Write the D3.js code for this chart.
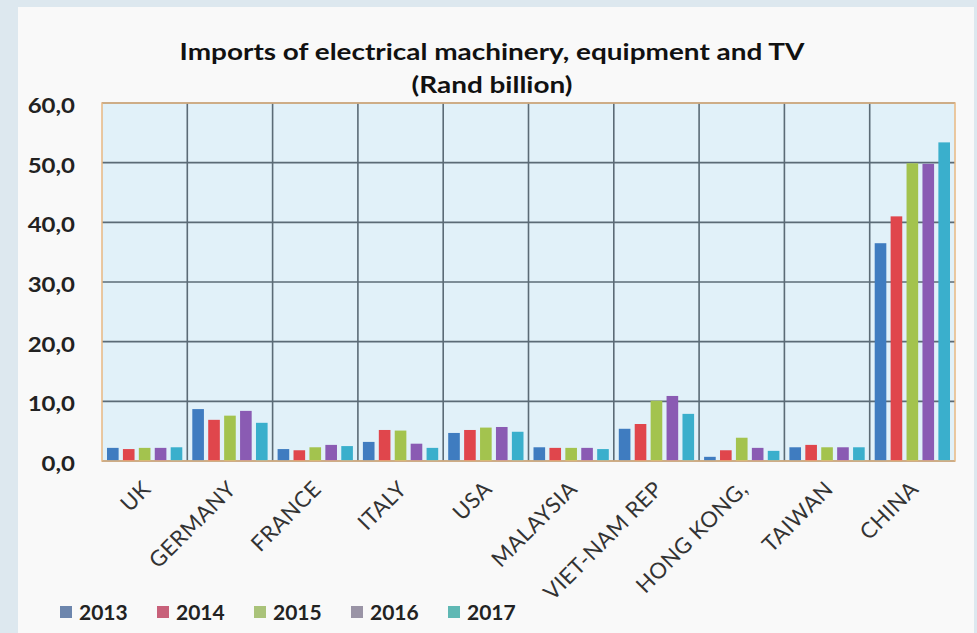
<!DOCTYPE html>
<html><head><meta charset="utf-8">
<script src="https://cdn.jsdelivr.net/npm/d3@7"></script>
<style>body{margin:0;background:#dde8ef;} svg{display:block}</style>
</head><body>
<svg id="c" width="977" height="633"></svg>
<script>
const categories = ["UK","GERMANY","FRANCE","ITALY","USA","MALAYSIA","VIET-NAM REP","HONG KONG,","TAIWAN","CHINA"];
const years = ["2013","2014","2015","2016","2017"];
const v2013 = [2.2, 8.7, 2.0, 3.2, 4.7, 2.3, 5.4, 0.7, 2.3, 36.5];
const v2014 = [2.0, 6.9, 1.8, 5.2, 5.2, 2.2, 6.2, 1.8, 2.7, 41.0];
const v2015 = [2.2, 7.6, 2.3, 5.1, 5.6, 2.2, 10.1, 3.9, 2.3, 49.9];
const v2016 = [2.2, 8.4, 2.7, 2.9, 5.7, 2.2, 10.9, 2.2, 2.3, 49.8];
const v2017 = [2.3, 6.4, 2.5, 2.2, 4.9, 2.0, 7.9, 1.7, 2.3, 53.4];
const yTicks = [0,10,20,30,40,50,60];
const colors = ["#3f7cc0","#e0464c","#a3c34e","#8a5bb3","#3aafcc"];
const legendColors = ["#6d86ad","#c8617a","#aac37a","#9a94a6","#5fb8b4"];
const series = [v2013,v2014,v2015,v2016,v2017];

const svg = d3.select("#c");
svg.append("rect").attr("x",0).attr("y",0).attr("width",977).attr("height",633).attr("fill","#dde8ef");
svg.append("rect").attr("x",18).attr("y",7).attr("width",956).attr("height",626).attr("fill","#f9f9f9");

const m = {l:102, r:955, t:103, b:461};
const x = d3.scaleBand().domain(categories).range([m.l,m.r]).padding(0);
const xi = d3.scaleBand().domain(years).range([5, x.bandwidth()-5]).paddingInner(0.27);
const y = d3.scaleLinear().domain([0,60]).range([m.b,m.t]);

svg.append("rect").attr("x",m.l).attr("y",m.t).attr("width",m.r-m.l).attr("height",m.b-m.t).attr("fill","#e1f1f9");

// horizontal grid
svg.append("g").selectAll("line").data(yTicks).join("line")
  .attr("x1",m.l).attr("x2",m.r).attr("y1",d=>y(d)).attr("y2",d=>y(d))
  .attr("stroke","#5b6b76").attr("stroke-width",1.6);
// vertical grid
svg.append("g").selectAll("line").data(categories.slice(1)).join("line")
  .attr("x1",d=>x(d)).attr("x2",d=>x(d)).attr("y1",m.t).attr("y2",m.b)
  .attr("stroke","#5b6b76").attr("stroke-width",1.6);

// bars
const g = svg.append("g");
series.forEach((vals,si)=>{
  g.selectAll(null).data(vals).join("rect")
    .attr("x",(d,i)=>x(categories[i])+xi(years[si]))
    .attr("y",d=>y(d))
    .attr("width",xi.bandwidth())
    .attr("height",d=>y(0)-y(d))
    .attr("fill",colors[si]);
});

// plot border
svg.append("rect").attr("x",m.l).attr("y",m.t).attr("width",m.r-m.l).attr("height",m.b-m.t)
  .attr("fill","none").attr("stroke","#e8b882").attr("stroke-width",1.5);

const font = "Lato, 'Open Sans', sans-serif";
// y axis labels
svg.append("g").selectAll("text").data(yTicks).join("text")
  .attr("transform",d=>`translate(75,${y(d)+3}) scale(1.2,1)`)
  .attr("dy","0.35em").attr("text-anchor","end")
  .attr("font-family",font).attr("font-weight","bold").attr("font-size",20).attr("fill","#222")
  .text(d=>d3.format(".1f")(d).replace(".",","));

// x labels
svg.append("g").selectAll("text").data(categories).join("text")
  .attr("transform",d=>`translate(${x(d)+x.bandwidth()/2+2},${m.b+24}) rotate(-45)`)
  .attr("text-anchor","end").attr("dy","0.35em")
  .attr("font-family",font).attr("font-size",22).attr("letter-spacing",0.5).attr("fill","#333")
  .text(d=>d);

// title
[["Imports of electrical machinery, equipment and TV",60],["(Rand billion)",93]].forEach(([t,ty])=>{
  svg.append("text").attr("transform",`translate(492,${ty}) scale(1.27,1)`).attr("text-anchor","middle")
    .attr("font-family",font).attr("font-weight","bold").attr("font-size",22).attr("fill","#111")
    .text(t);
});

// legend
const lg = svg.append("g");
years.forEach((yr,i)=>{
  const lx = 60 + i*97;
  lg.append("rect").attr("x",lx).attr("y",606).attr("width",12).attr("height",12).attr("fill",legendColors[i]);
  lg.append("text").attr("x",lx+19).attr("y",613).attr("dy","0.35em")
    .attr("font-family",font).attr("font-weight","bold").attr("font-size",21).attr("fill","#222").text(yr);
});
</script>
</body></html>
